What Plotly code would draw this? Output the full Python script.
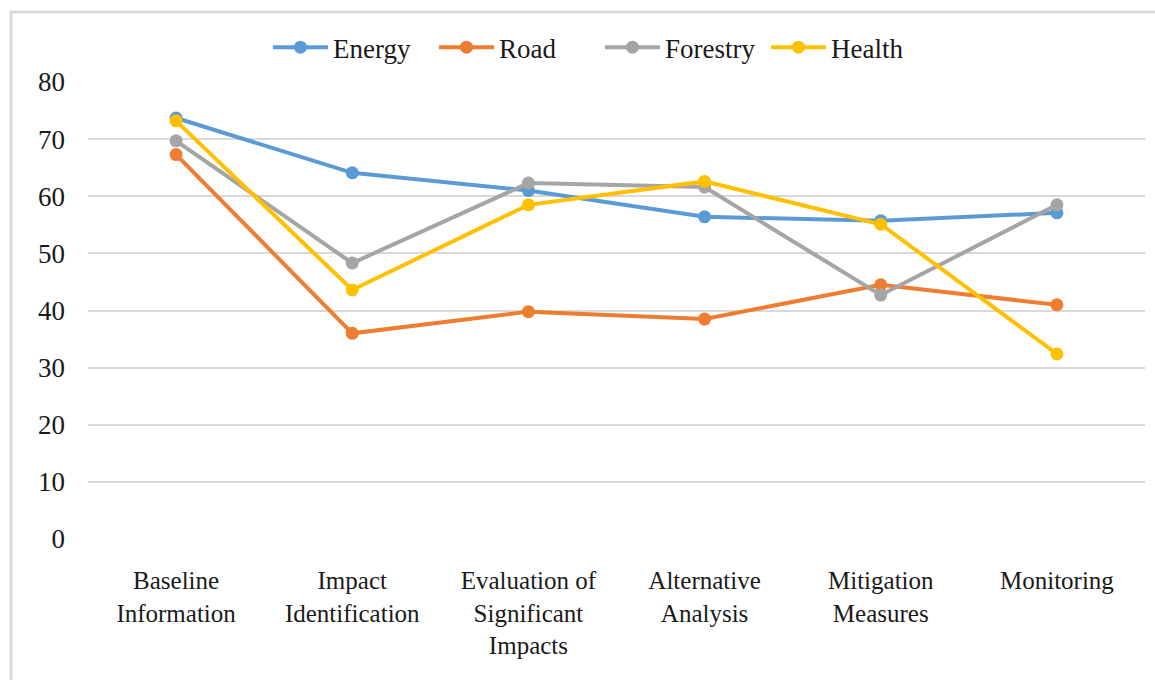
import plotly.graph_objects as go

# Assessment components (x categories)
categories = [
    "Baseline<br>Information",
    "Impact<br>Identification",
    "Evaluation of<br>Significant<br>Impacts",
    "Alternative<br>Analysis",
    "Mitigation<br>Measures",
    "Monitoring",
]

# Scores per sector
energy = [73.7, 64.1, 61.0, 56.4, 55.7, 57.1]
road = [67.3, 36.0, 39.8, 38.5, 44.5, 41.0]
forestry = [69.7, 48.3, 62.3, 61.6, 42.7, 58.5]
health = [73.2, 43.6, 58.5, 62.6, 55.1, 32.4]

y_ticks = [0, 10, 20, 30, 40, 50, 60, 70, 80]

series = [
    ("Energy", energy, "#5B9BD5"),
    ("Road", road, "#ED7D31"),
    ("Forestry", forestry, "#A5A5A5"),
    ("Health", health, "#FFC000"),
]

FONT = "Liberation Serif, Times New Roman, serif"
TEXT = "#1a1a1a"

fig = go.Figure()
for name, values, color in series:
    fig.add_trace(go.Scatter(
        x=categories,
        y=values,
        name=name,
        mode="lines+markers",
        line=dict(color=color, width=4),
        marker=dict(color=color, size=13),
    ))

fig.update_layout(
    width=1155,
    height=680,
    margin=dict(l=88, r=10, t=82, b=141, autoexpand=False),
    paper_bgcolor="white",
    plot_bgcolor="white",
    font=dict(family=FONT, size=26, color=TEXT),
    showlegend=True,
    legend=dict(
        orientation="h",
        xref="container",
        yref="container",
        x=0.232,
        xanchor="left",
        y=0.93,
        yanchor="middle",
        bgcolor="rgba(0,0,0,0)",
        font=dict(family=FONT, size=27, color=TEXT),
        itemwidth=55,
        entrywidth=96,
        traceorder="normal",
    ),
    xaxis=dict(
        type="category",
        range=[-0.5, 5.5],
        showgrid=False,
        showline=False,
        zeroline=False,
        ticks="",
        automargin=False,
        tickfont=dict(family=FONT, size=25, color=TEXT),
        ticklabelstandoff=24,
    ),
    yaxis=dict(
        range=[0, 80],
        tickvals=y_ticks,
        showgrid=True,
        gridcolor="#d9d9d9",
        gridwidth=1.5,
        zeroline=False,
        showline=False,
        ticks="",
        automargin=False,
        tickfont=dict(family=FONT, size=27, color=TEXT),
        ticklabelstandoff=22,
    ),
    shapes=[
        dict(
            type="rect",
            xref="paper",
            yref="paper",
            x0=-0.0728,
            x1=1.2,
            y0=-0.6,
            y1=1.153,
            line=dict(color="#d9d9d9", width=3),
            fillcolor="rgba(0,0,0,0)",
            layer="below",
        )
    ],
)

fig.write_html("out.html")
